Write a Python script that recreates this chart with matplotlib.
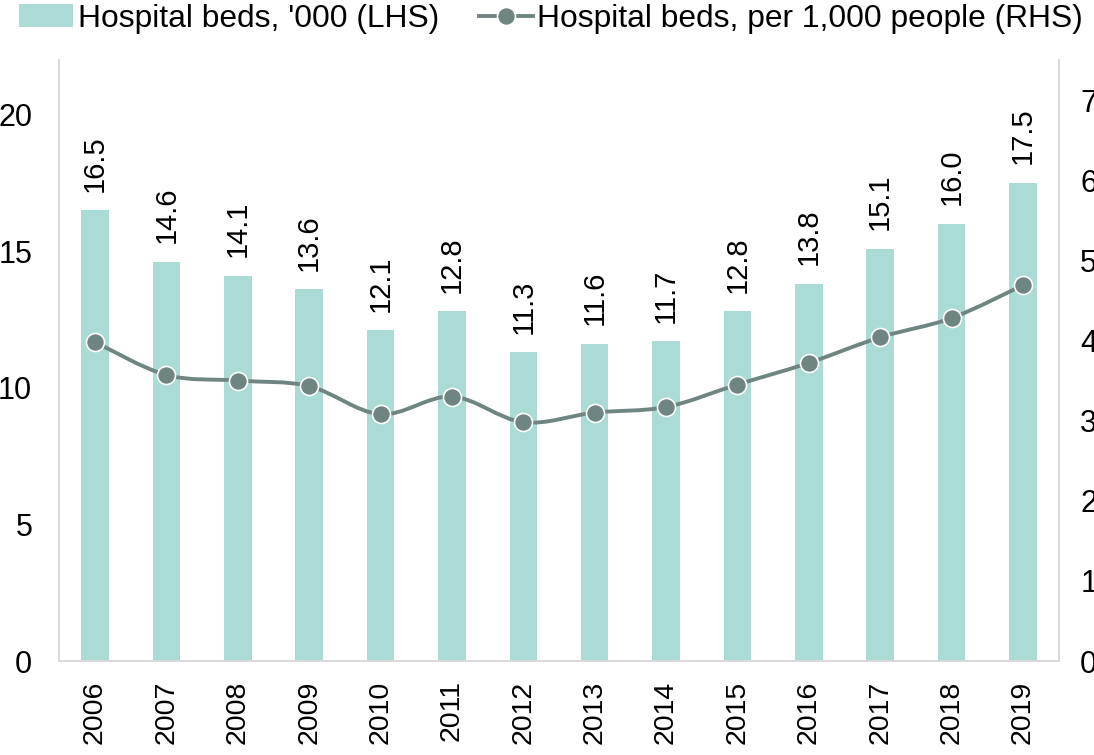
import numpy as np
import matplotlib
matplotlib.use("Agg")
import matplotlib.pyplot as plt
from matplotlib.path import Path
from matplotlib.patches import PathPatch
from matplotlib.lines import Line2D
from matplotlib.patches import Patch

plt.rcParams["font.family"] = ["Liberation Sans", "DejaVu Sans"]

# ── data ──────────────────────────────────────
years = ["2006", "2007", "2008", "2009", "2010", "2011", "2012",
         "2013", "2014", "2015", "2016", "2017", "2018", "2019"]
beds_k = [16.5, 14.6, 14.1, 13.6, 12.1, 12.8, 11.3,
          11.6, 11.7, 12.8, 13.8, 15.1, 16.0, 17.5]
beds_per_1000 = [3.98, 3.57, 3.50, 3.43, 3.08, 3.30, 2.98,
                 3.10, 3.17, 3.45, 3.72, 4.04, 4.28, 4.69]

BAR_C = "#aadbd4"
LINE_C = "#6f8581"
SPINE_C = "#d9d9d9"


def smooth_path(xs, ys, t=1/6):
    """Catmull-Rom style bezier path through the points (Excel 'smoothed line')."""
    pts = np.column_stack([xs, ys]).astype(float)
    verts = [pts[0]]
    codes = [Path.MOVETO]
    n = len(pts)
    for i in range(n - 1):
        p0 = pts[max(i - 1, 0)]
        p1, p2 = pts[i], pts[i + 1]
        p3 = pts[min(i + 2, n - 1)]
        c1 = p1 + (p2 - p0) * t
        c2 = p2 - (p3 - p1) * t
        verts += [c1, c2, p2]
        codes += [Path.CURVE4] * 3
    return Path(verts, codes)


fig = plt.figure(figsize=(10.94, 7.55), dpi=100)
ax = fig.add_axes([0.0542, 0.1245, 0.9135, 0.796])
ax2 = ax.twinx()

x = np.arange(len(years))
ax.bar(x, beds_k, width=0.386, color=BAR_C, zorder=2)
for xi, v in zip(x, beds_k):
    ax.annotate(f"{v:.1f}", (xi, v), xytext=(0, 13.5), textcoords="offset points",
                rotation=90, ha="center", va="bottom", fontsize=21)

ax.set_xlim(-0.5, len(years) - 0.5)
ax.set_ylim(0, 22)
ax.set_yticks([0, 5, 10, 15, 20])
ax.set_xticks(x)
ax.set_xticklabels(years, rotation=90)
ax.tick_params(axis="x", length=0, pad=14, labelsize=20.5)
ax.tick_params(axis="y", length=0, pad=19.5, labelsize=22)

ax2.set_ylim(0, 7.5)
ax2.set_yticks(range(8))
ax2.tick_params(axis="y", length=0, pad=15.5, labelsize=22)

ax2.add_patch(PathPatch(smooth_path(x, beds_per_1000), facecolor="none",
                        edgecolor=LINE_C, lw=2.8, zorder=3))
ax2.plot(x, beds_per_1000, ls="none", marker="o", ms=13, color=LINE_C,
         mec="white", mew=1.2, zorder=4)

for a in (ax, ax2):
    a.spines["top"].set_visible(False)
    for s in ("left", "right", "bottom"):
        a.spines[s].set_color(SPINE_C)
        a.spines[s].set_linewidth(1.2)
ax.set_zorder(ax2.get_zorder() - 1)
ax.patch.set_visible(False)

handles = [Patch(facecolor=BAR_C, edgecolor="none"),
           Line2D([], [], color=LINE_C, lw=2.8, marker="o", ms=13,
                  mec="white", mew=1.2)]
labels = ["Hospital beds, '000 (LHS)", "Hospital beds, per 1,000 people (RHS)"]
fig.legend(handles, labels, loc="upper left", bbox_to_anchor=(0.0055, 1.012),
           ncol=2, frameon=False, fontsize=22.9, handlelength=1.7,
           handletextpad=0.15, columnspacing=1.25, borderaxespad=0)

fig.savefig("out.png", dpi=100)
